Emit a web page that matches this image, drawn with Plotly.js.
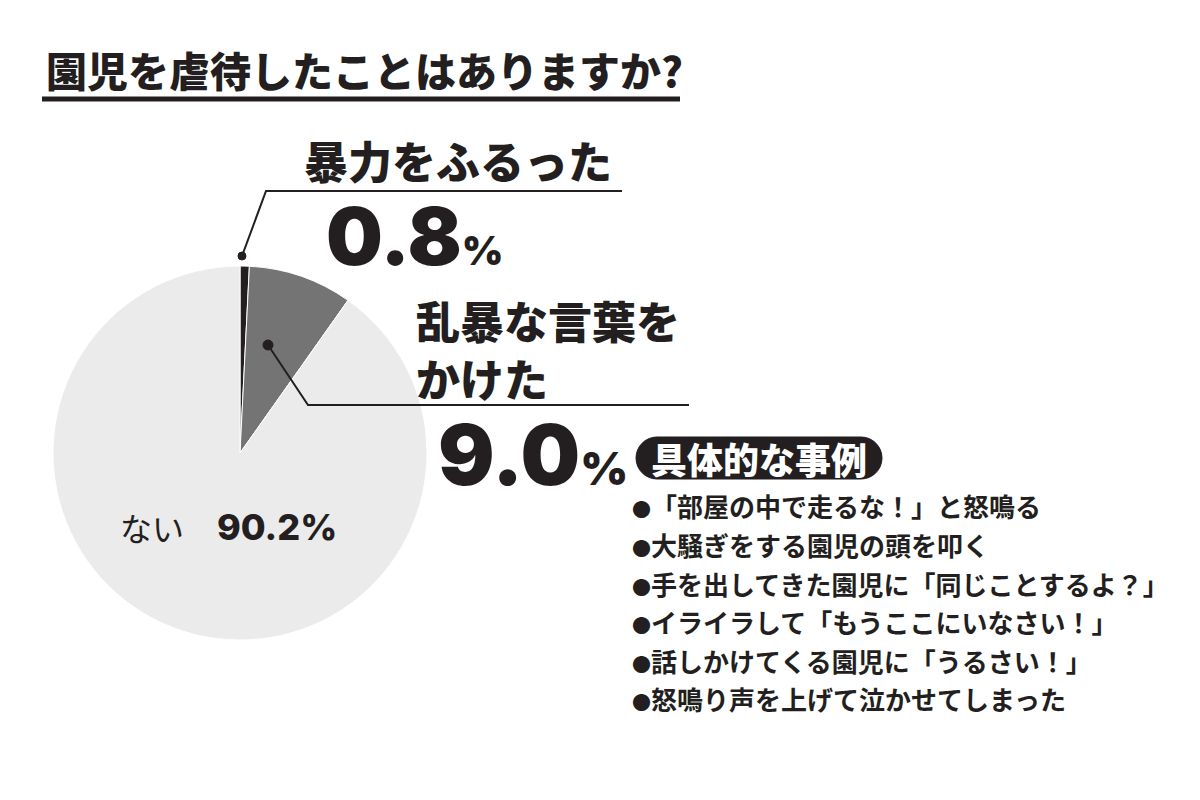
<!DOCTYPE html>
<html><head><meta charset="utf-8">
<script src="https://cdn.plot.ly/plotly-3.0.1.min.js"></script>
<style>body{margin:0;background:#fff}#chart{width:1200px;height:800px}</style>
</head><body><div id="chart"></div>
<script>
// ---- data ----
const categories = ["暴力をふるった", "乱暴な言葉をかけた", "ない"];
const values = [0.8, 9.0, 90.2];
const sliceColors = ["#231f20", "#747474", "#ebebeb"];
const titleText = "園児を虐待したことはありますか?";
const exampleHeader = "具体的な事例";
const examples = [
  "「部屋の中で走るな！」と怒鳴る",
  "大騒ぎをする園児の頭を叩く",
  "手を出してきた園児に「同じことするよ？」",
  "イライラして「もうここにいなさい！」",
  "話しかけてくる園児に「うるさい！」",
  "怒鳴り声を上げて泣かせてしまった"
];

// ---- helpers (pixel -> paper) ----
const W = 1200, H = 800;
const px = x => x / W;
const py = y => 1 - y / H;
const JP = '"Noto Sans CJK JP", "Noto Sans CJK SC", sans-serif';
const NUM = 'Inter, "Liberation Sans", sans-serif';
const INK = '#231f20';

function fmt(v){ return (Math.round(v*10)/10).toFixed(1); }

const trace = {
  type: 'pie',
  labels: categories,
  values: values,
  sort: false,
  direction: 'clockwise',
  rotation: 0,
  textinfo: 'none',
  hoverinfo: 'label+percent',
  marker: {colors: sliceColors, line: {color: '#ffffff', width: 1}},
  domain: {x: [px(240-187), px(240+187)], y: [py(453+187), py(453-187)]},
  showlegend: false
};

const annotations = [];
function ann(x, y, text, size, opts) {
  annotations.push(Object.assign({
    xref: 'paper', yref: 'paper', x: px(x), y: py(y), text: text,
    showarrow: false, xanchor: 'left', yanchor: 'middle',
    font: {family: JP, size: size, color: INK, weight: 700}
  }, opts || {}));
}

// title
ann(44, 69, titleText, 41, {font: {family: JP, size: 41, color: INK, weight: 900}});
// slice labels
ann(302, 160, categories[0], 44, {font: {family: JP, size: 44, color: INK, weight: 900}});
ann(324, 236, fmt(values[0]) + '<span style="font-size:40px">%</span>', 80,
    {font: {family: NUM, size: 80, color: INK, weight: 900}});
ann(414, 320, categories[1].slice(0, 6), 44, {font: {family: JP, size: 44, color: INK, weight: 900}});
ann(414, 378, categories[1].slice(6), 44, {font: {family: JP, size: 44, color: INK, weight: 900}});
ann(436, 454, fmt(values[1]) + '<span style="font-size:46px">%</span>', 84,
    {font: {family: NUM, size: 84, color: INK, weight: 900}});
ann(118, 527, categories[2], 32, {font: {family: JP, size: 32, color: INK, weight: 400}});
ann(215, 527, fmt(values[2]) + '%', 36, {font: {family: NUM, size: 36, color: INK, weight: 800}});
// example header
ann(759, 458, exampleHeader, 36, {xanchor: 'center', font: {family: JP, size: 36, color: '#ffffff', weight: 900}});
// examples
examples.forEach((t, i) => {
  ann(630, 506 + i * 38.5, '<span style="font-size:19px">●</span>' + t, 26,
      {font: {family: JP, size: 26, color: INK, weight: 700}});
});

// pill path
function pill(x0, y0, x1, y1) {
  const r = (y1 - y0) / 2;
  const k = 0.5523 * r;
  const P = (x, y) => px(x) + ',' + py(y);
  return 'M ' + P(x0 + r, y0) + ' L ' + P(x1 - r, y0) +
    ' C ' + P(x1 - r + k, y0) + ' ' + P(x1, y0 + r - k) + ' ' + P(x1, y0 + r) +
    ' C ' + P(x1, y0 + r + k) + ' ' + P(x1 - r + k, y1) + ' ' + P(x1 - r, y1) +
    ' L ' + P(x0 + r, y1) +
    ' C ' + P(x0 + r - k, y1) + ' ' + P(x0, y0 + r + k) + ' ' + P(x0, y0 + r) +
    ' C ' + P(x0, y0 + r - k) + ' ' + P(x0 + r - k, y0) + ' ' + P(x0 + r, y0) + ' Z';
}

const shapes = [
  // title underline
  {type: 'line', xref: 'paper', yref: 'paper', x0: px(42), x1: px(680), y0: py(99), y1: py(99),
   line: {color: INK, width: 5}},
  // leader 1
  {type: 'path', xref: 'paper', yref: 'paper',
   path: 'M ' + px(242) + ',' + py(256) + ' L ' + px(266) + ',' + py(191) + ' L ' + px(622) + ',' + py(191),
   line: {color: INK, width: 2}},
  {type: 'circle', xref: 'paper', yref: 'paper', x0: px(238), x1: px(246), y0: py(252), y1: py(260),
   fillcolor: INK, line: {color: INK, width: 1}},
  // leader 2
  {type: 'path', xref: 'paper', yref: 'paper',
   path: 'M ' + px(268) + ',' + py(345) + ' L ' + px(308) + ',' + py(405) + ' L ' + px(689) + ',' + py(405),
   line: {color: INK, width: 2}},
  {type: 'circle', xref: 'paper', yref: 'paper', x0: px(263), x1: px(273), y0: py(340), y1: py(350),
   fillcolor: INK, line: {color: INK, width: 1}},
  // pill
  {type: 'path', xref: 'paper', yref: 'paper', path: pill(636, 437, 882, 479),
   fillcolor: INK, line: {color: INK, width: 1}, layer: 'below'}
];

const layout = {
  width: W, height: H,
  margin: {l: 0, r: 0, t: 0, b: 0},
  paper_bgcolor: '#ffffff',
  showlegend: false,
  annotations: annotations,
  shapes: shapes
};

Plotly.newPlot('chart', [trace], layout, {displayModeBar: false, staticPlot: true});
</script></body></html>
